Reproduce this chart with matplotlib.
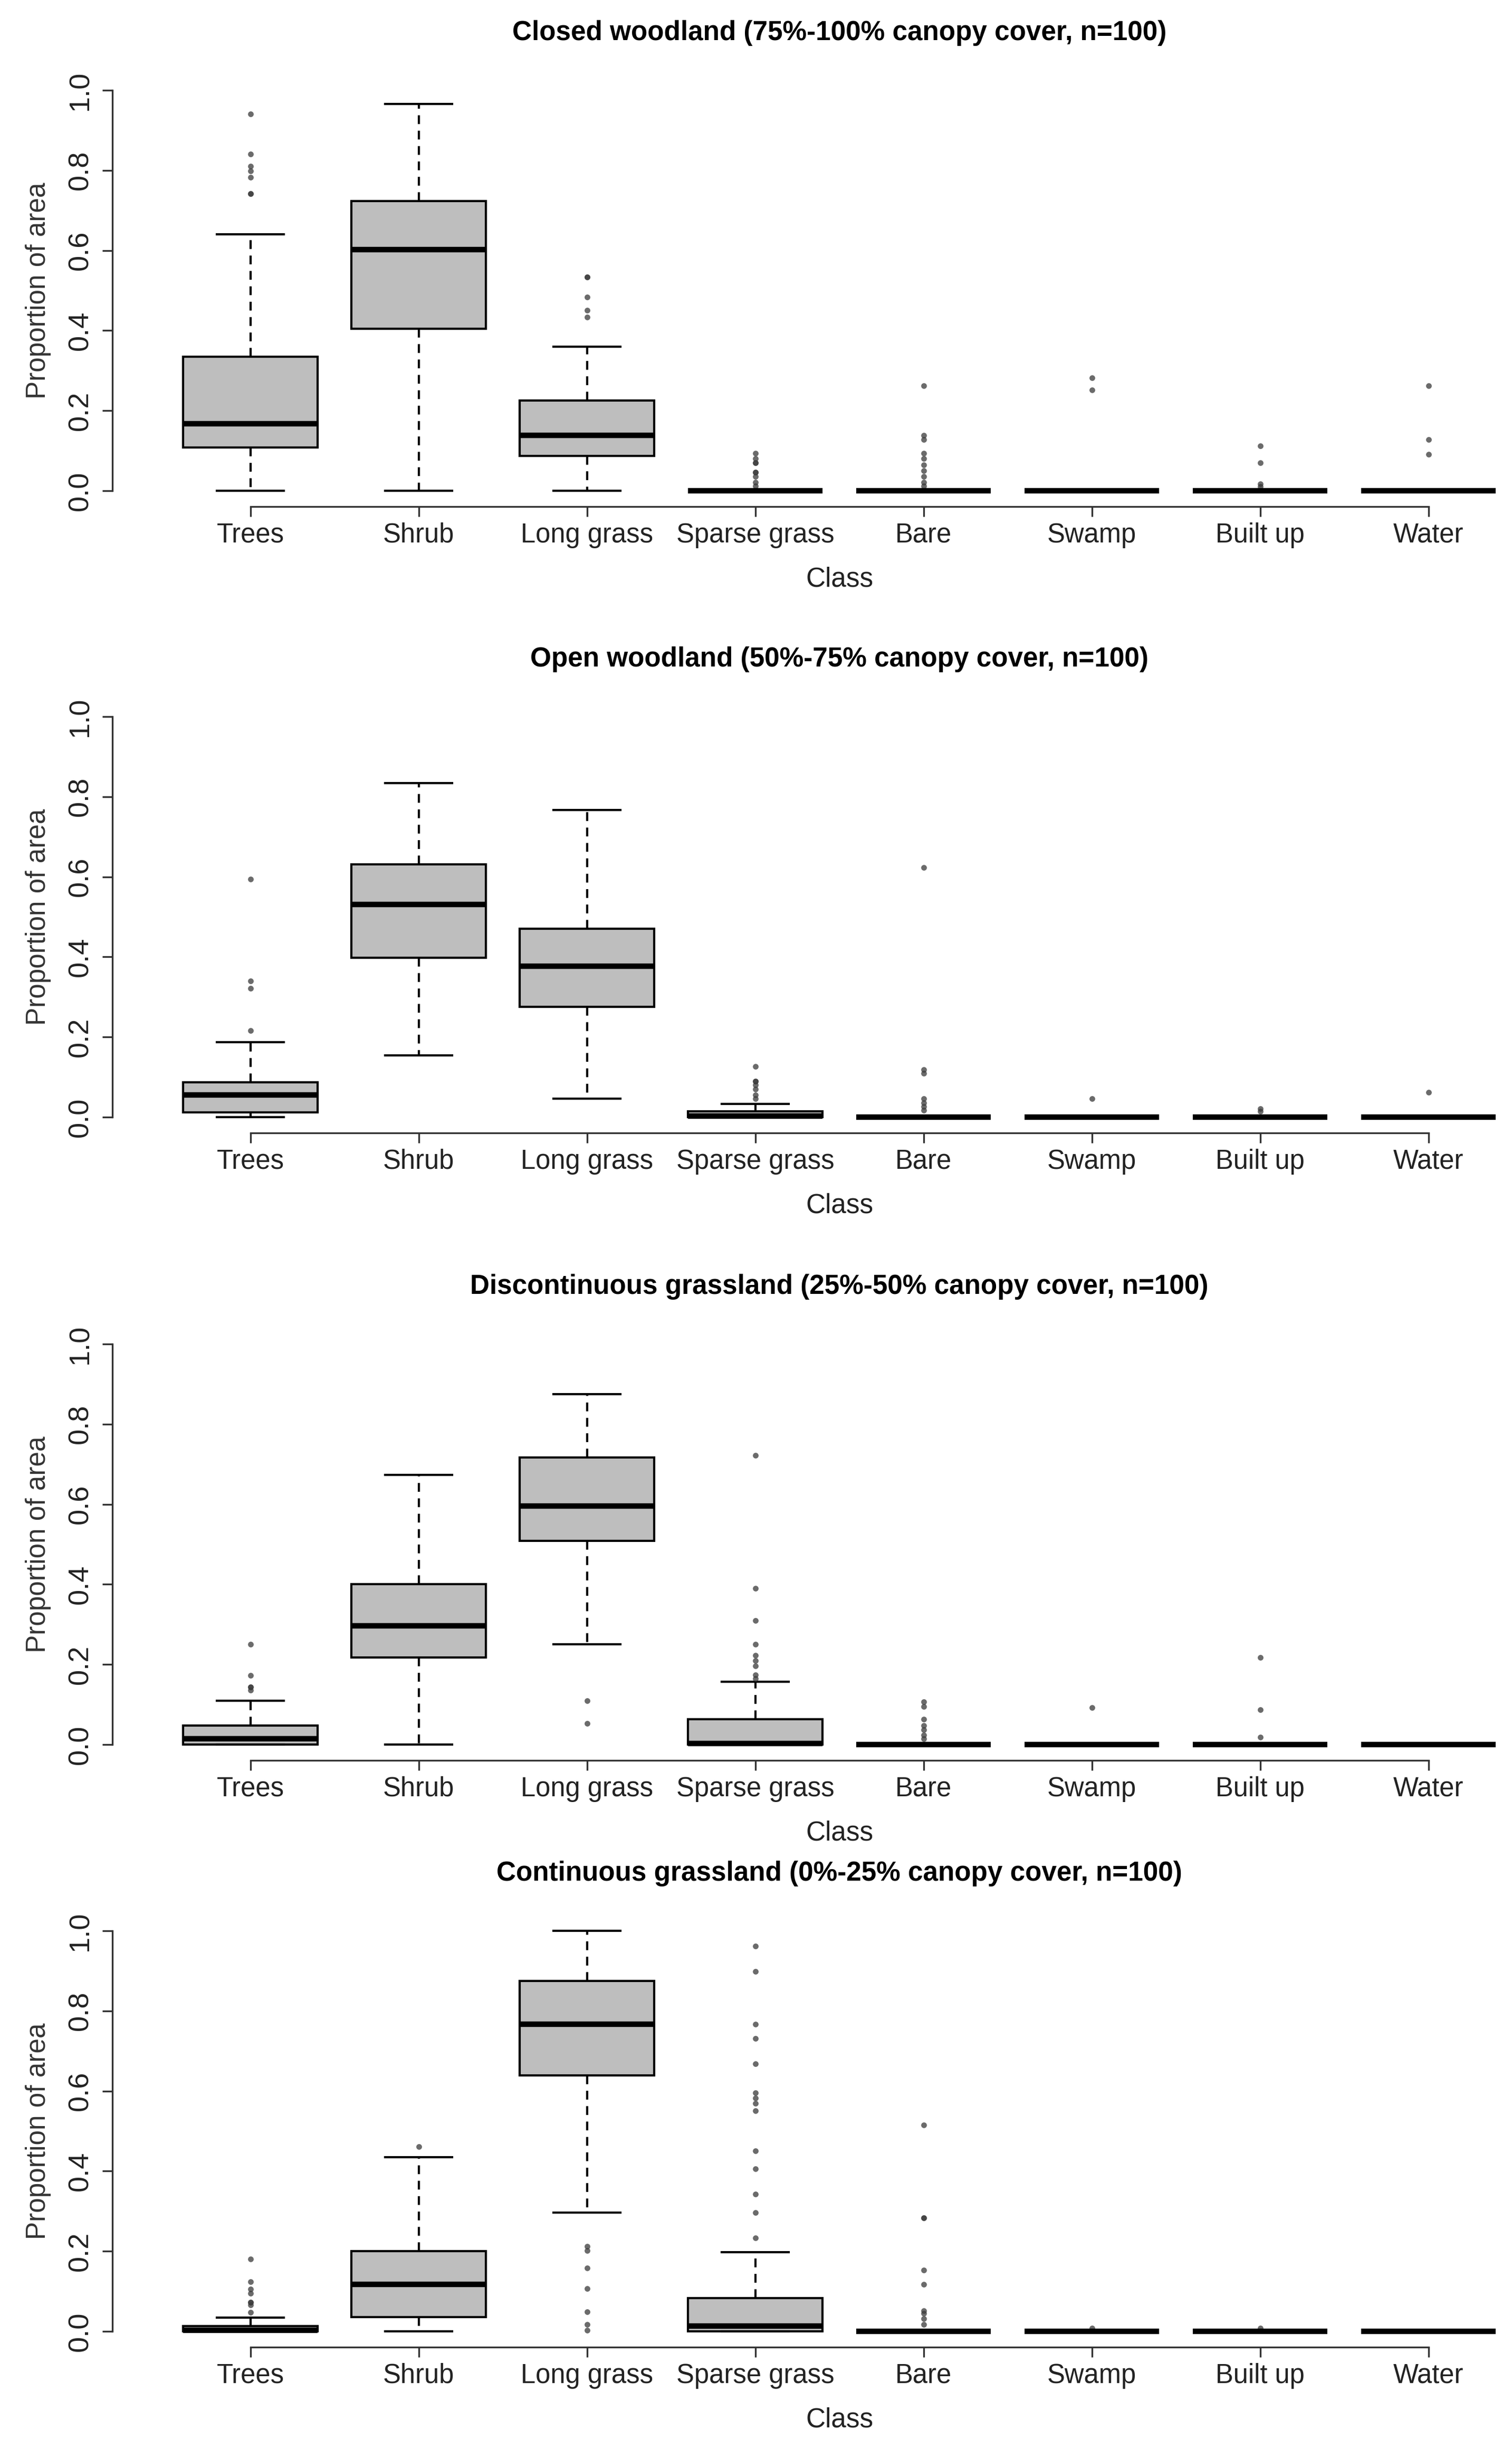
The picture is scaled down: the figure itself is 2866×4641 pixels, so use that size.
import matplotlib
matplotlib.use("Agg")
import matplotlib.pyplot as plt
import matplotlib.transforms as mtransforms

plt.rcParams['font.family'] = ['Liberation Sans', 'DejaVu Sans']

classes = ["Trees", "Shrub", "Long grass", "Sparse grass", "Bare", "Swamp", "Built up", "Water"]

titles = [
    "Closed woodland (75%-100% canopy cover, n=100)",
    "Open woodland (50%-75% canopy cover, n=100)",
    "Discontinuous grassland (25%-50% canopy cover, n=100)",
    "Continuous grassland (0%-25% canopy cover, n=100)",
]

# box statistics: whisker low, q1, median, q3, whisker high
closed_lo = [0.0, 0.0, 0.0, 0.0, 0.0, 0.0, 0.0, 0.0]
closed_q1 = [0.108, 0.405, 0.087, 0.0, 0.0, 0.0, 0.0, 0.0]
closed_med = [0.167, 0.602, 0.138, 0.0, 0.0, 0.0, 0.0, 0.0]
closed_q3 = [0.334, 0.723, 0.225, 0.0, 0.0, 0.0, 0.0, 0.0]
closed_hi = [0.640, 0.966, 0.360, 0.0, 0.0, 0.0, 0.0, 0.0]
closed_out = [
    [0.941, 0.841, 0.810, 0.798, 0.783, 0.742, 0.742],
    [],
    [0.533, 0.533, 0.484, 0.450, 0.434],
    [0.094, 0.080, 0.070, 0.070, 0.046, 0.046, 0.036, 0.021, 0.012],
    [0.262, 0.138, 0.128, 0.094, 0.080, 0.065, 0.050, 0.036, 0.021, 0.012],
    [0.282, 0.251],
    [0.112, 0.070, 0.017, 0.010],
    [0.262, 0.128, 0.091],
]

open_lo = [0.0, 0.154, 0.046, 0.0, 0.0, 0.0, 0.0, 0.0]
open_q1 = [0.012, 0.398, 0.276, 0.0, 0.0, 0.0, 0.0, 0.0]
open_med = [0.055, 0.531, 0.377, 0.002, 0.0, 0.0, 0.0, 0.0]
open_q3 = [0.087, 0.631, 0.471, 0.014, 0.0, 0.0, 0.0, 0.0]
open_hi = [0.187, 0.834, 0.767, 0.033, 0.0, 0.0, 0.0, 0.0]
open_out = [
    [0.594, 0.340, 0.322, 0.216],
    [],
    [],
    [0.126, 0.089, 0.089, 0.080, 0.070, 0.055, 0.046],
    [0.623, 0.118, 0.109, 0.046, 0.036, 0.026, 0.017],
    [0.046],
    [0.021, 0.014],
    [0.062],
]

disc_lo = [0.0, 0.0, 0.250, 0.0, 0.0, 0.0, 0.0, 0.0]
disc_q1 = [0.0, 0.218, 0.509, 0.0, 0.0, 0.0, 0.0, 0.0]
disc_med = [0.015, 0.297, 0.596, 0.003, 0.0, 0.0, 0.0, 0.0]
disc_q3 = [0.047, 0.401, 0.717, 0.063, 0.0, 0.0, 0.0, 0.0]
disc_hi = [0.109, 0.673, 0.875, 0.157, 0.0, 0.0, 0.0, 0.0]
disc_out = [
    [0.250, 0.172, 0.143, 0.143, 0.136],
    [],
    [0.109, 0.053],
    [0.722, 0.390, 0.310, 0.250, 0.223, 0.209, 0.196, 0.174, 0.165],
    [0.107, 0.095, 0.063, 0.048, 0.037, 0.024, 0.015],
    [0.092],
    [0.218, 0.087, 0.019],
    [],
]

cont_lo = [0.0, 0.0, 0.296, 0.0, 0.0, 0.0, 0.0, 0.0]
cont_q1 = [0.0, 0.035, 0.639, 0.0, 0.0, 0.0, 0.0, 0.0]
cont_med = [0.003, 0.117, 0.767, 0.013, 0.0, 0.0, 0.0, 0.0]
cont_q3 = [0.013, 0.200, 0.875, 0.083, 0.0, 0.0, 0.0, 0.0]
cont_hi = [0.034, 0.435, 1.0, 0.197, 0.0, 0.0, 0.0, 0.0]
cont_out = [
    [0.180, 0.124, 0.105, 0.095, 0.073, 0.073, 0.066, 0.047],
    [0.461],
    [0.212, 0.202, 0.158, 0.107, 0.049, 0.017, 0.003],
    [0.962, 0.899, 0.767, 0.731, 0.668, 0.595, 0.583, 0.569, 0.551,
     0.451, 0.406, 0.343, 0.296, 0.233],
    [0.515, 0.283, 0.283, 0.153, 0.117, 0.051, 0.045, 0.032, 0.017],
    [0.008],
    [0.008],
    [],
]

panels = [
    (closed_lo, closed_q1, closed_med, closed_q3, closed_hi, closed_out),
    (open_lo, open_q1, open_med, open_q3, open_hi, open_out),
    (disc_lo, disc_q1, disc_med, disc_q3, disc_hi, disc_out),
    (cont_lo, cont_q1, cont_med, cont_q3, cont_hi, cont_out),
]

W, H = 2866, 4641
fig = plt.figure(figsize=(W / 300, H / 300), dpi=300)

# pixel rows of the 0.0 gridline in each panel, 759 px per unit
zeros = [930, 2117, 3306, 4418]
unit = 759
left_px = 213
px_per_box = 319
ax_col = '#333333'

for k, (lo, q1, med, q3, hi, out) in enumerate(panels):
    bottom_px = zeros[k] + 0.04 * unit
    height_px = 1.08 * unit
    ax = fig.add_axes([left_px / W, 1 - bottom_px / H, 1 - left_px / W, height_px / H])

    stats = []
    for i in range(len(classes)):
        stats.append(dict(whislo=lo[i], q1=q1[i], med=med[i], q3=q3[i],
                          whishi=hi[i], fliers=out[i]))

    ax.bxp(stats, positions=range(1, 9), widths=0.8, capwidths=0.4,
           patch_artist=True, manage_ticks=False,
           boxprops=dict(facecolor='#BEBEBE', edgecolor='black', linewidth=1.0),
           medianprops=dict(color='black', linewidth=2.5, solid_capstyle='butt'),
           whiskerprops=dict(color='black', linewidth=1.0, linestyle=(0, (4, 3))),
           capprops=dict(color='black', linewidth=1.0),
           flierprops=dict(marker='o', markersize=2.6, markerfacecolor='#3a3a3a',
                           markeredgewidth=0, alpha=0.75, linestyle='none'))

    ax.set_xlim(0.18, 0.18 + (W - left_px) / px_per_box)
    ax.set_ylim(-0.04, 1.04)

    for side in ['top', 'right']:
        ax.spines[side].set_visible(False)
    ax.spines['left'].set_bounds(0, 1)
    ax.spines['bottom'].set_bounds(1, 8)
    for side in ['left', 'bottom']:
        ax.spines[side].set_color(ax_col)
        ax.spines[side].set_linewidth(0.8)

    ax.set_xticks(range(1, 9))
    ax.set_xticklabels(classes)
    ax.set_yticks([0, 0.2, 0.4, 0.6, 0.8, 1.0])
    ax.set_yticklabels(["0.0", "0.2", "0.4", "0.6", "0.8", "1.0"],
                       rotation=90, va='center')
    ax.tick_params(axis='both', length=4.6, width=0.8, color=ax_col,
                   labelcolor='#222222')
    ax.tick_params(axis='x', pad=2.5, labelsize=12.2)
    ax.tick_params(axis='y', pad=4, labelsize=13)

    trans = mtransforms.blended_transform_factory(ax.transData, ax.transAxes)
    ax.text(4.5, 1.095, titles[k], transform=trans, ha='center', va='center',
            fontsize=12.3, fontweight='bold', color='black')
    ax.text(4.5, -0.168, "Class", transform=trans, ha='center', va='center',
            fontsize=12.3, color='#222222')
    ax.text(-0.0528, 0.5, "Proportion of area", transform=ax.transAxes,
            ha='center', va='center', rotation=90, fontsize=12.3, color='#333333')

fig.savefig("out.png", dpi=300)
